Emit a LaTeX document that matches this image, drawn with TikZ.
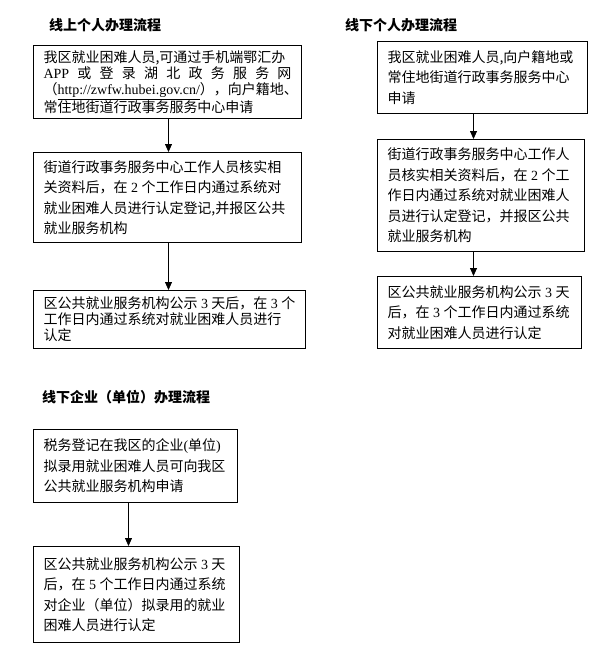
\documentclass[tikz,border=0pt]{standalone}
\usepackage{fontspec}
\usepackage{tikz}
\usetikzlibrary{arrows.meta}
\newfontfamily\cjk{Noto Sans CJK SC}
\newfontfamily\lat{Liberation Serif}
\newcommand\dg[1]{\kern3.5pt{\lat #1}\kern3.5pt}

\begin{document}
\begin{tikzpicture}[x=1pt, y=-1pt,
  box/.style={draw, line width=1pt, anchor=north west, inner xsep=10pt,
              inner ysep=0pt, align=left,
              font=\cjk\fontsize{14pt}{20.5pt}\selectfont},
  tight/.style={font=\cjk\fontsize{14pt}{16pt}\selectfont},
  heading/.style={anchor=west, inner sep=0pt,
                  font=\cjk\bfseries\fontsize{14pt}{16pt}\selectfont},
  arr/.style={->, line width=0.8pt, >={Triangle[length=8pt,width=7pt]}}
]
  \useasboundingbox (0,0) rectangle (616,667);

  \node[heading] (ontitle) at (49,25) {线上个人办理流程};
  \node[box, tight, text width=248pt, minimum height=73pt] (on1) at (33,45)
    {我区就业困难人员,可通过手机端鄂汇办\\
     {\lat APP}\hfill 或\hfill 登\hfill 录\hfill 湖\hfill 北\hfill 政\hfill 务\hfill 服\hfill 务\hfill 网\\
     （{\lat\underline{http://zwfw.hubei.gov.cn/}}），向户籍地、\\
     常住地街道行政事务服务中心申请};
  \node[box, text width=248pt, minimum height=90pt] (on2) at (33,152)
    {街道行政事务服务中心工作人员核实相\\
     关资料后，在\dg{2}个工作日内通过系统对\\
     就业困难人员进行认定登记,并报区公共\\
     就业服务机构};
  \node[box, tight, text width=252pt, minimum height=58pt] (on3) at (33,290)
    {区公共就业服务机构公示\dg{3}天后，在\dg{3}个\\
     工作日内通过系统对就业困难人员进行\\
     认定};
  \draw[arr] ([xshift=1pt]on1.south) -- ([xshift=1pt]on1.south |- on2.north);
  \draw[arr] ([xshift=1pt]on1.south |- on2.south) -- ([xshift=1pt]on1.south |- on3.north);

  \node[heading] (offtitle) at (345,25) {线下个人办理流程};
  \node[box, text width=190pt, minimum height=72pt] (off1) at (377,41)
    {我区就业困难人员,向户籍地或\\
     常住地街道行政事务服务中心\\
     申请};
  \node[box, text width=187pt, minimum height=112pt] (off2) at (377,139)
    {街道行政事务服务中心工作人\\
     员核实相关资料后，在\dg{2}个工\\
     作日内通过系统对就业困难人\\
     员进行认定登记，并报区公共\\
     就业服务机构};
  \node[box, text width=184pt, minimum height=72pt] (off3) at (377,276)
    {区公共就业服务机构公示\dg{3}天\\
     后，在\dg{3}个工作日内通过系统\\
     对就业困难人员进行认定};
  \draw[arr] ([xshift=-9pt]off1.south) -- ([xshift=-9pt]off1.south |- off2.north);
  \draw[arr] ([xshift=-9pt]off1.south |- off2.south) -- ([xshift=-9pt]off1.south |- off3.north);

  \node[heading] (cotitle) at (42,397) {线下企业（单位）办理流程};
  \node[box, text width=184pt, minimum height=73pt] (co1) at (33,429)
    {税务登记在我区的企业{\lat (}单位{\lat )}\\
     拟录用就业困难人员可向我区\\
     公共就业服务机构申请};
  \node[box, text width=186pt, minimum height=96pt] (co2) at (33,546)
    {区公共就业服务机构公示\dg{3}天\\
     后，在\dg{5}个工作日内通过系统\\
     对企业（单位）拟录用的就业\\
     困难人员进行认定};
  \draw[arr] ([xshift=-7pt]co1.south) -- ([xshift=-7pt]co1.south |- co2.north);
\end{tikzpicture}
\end{document}
